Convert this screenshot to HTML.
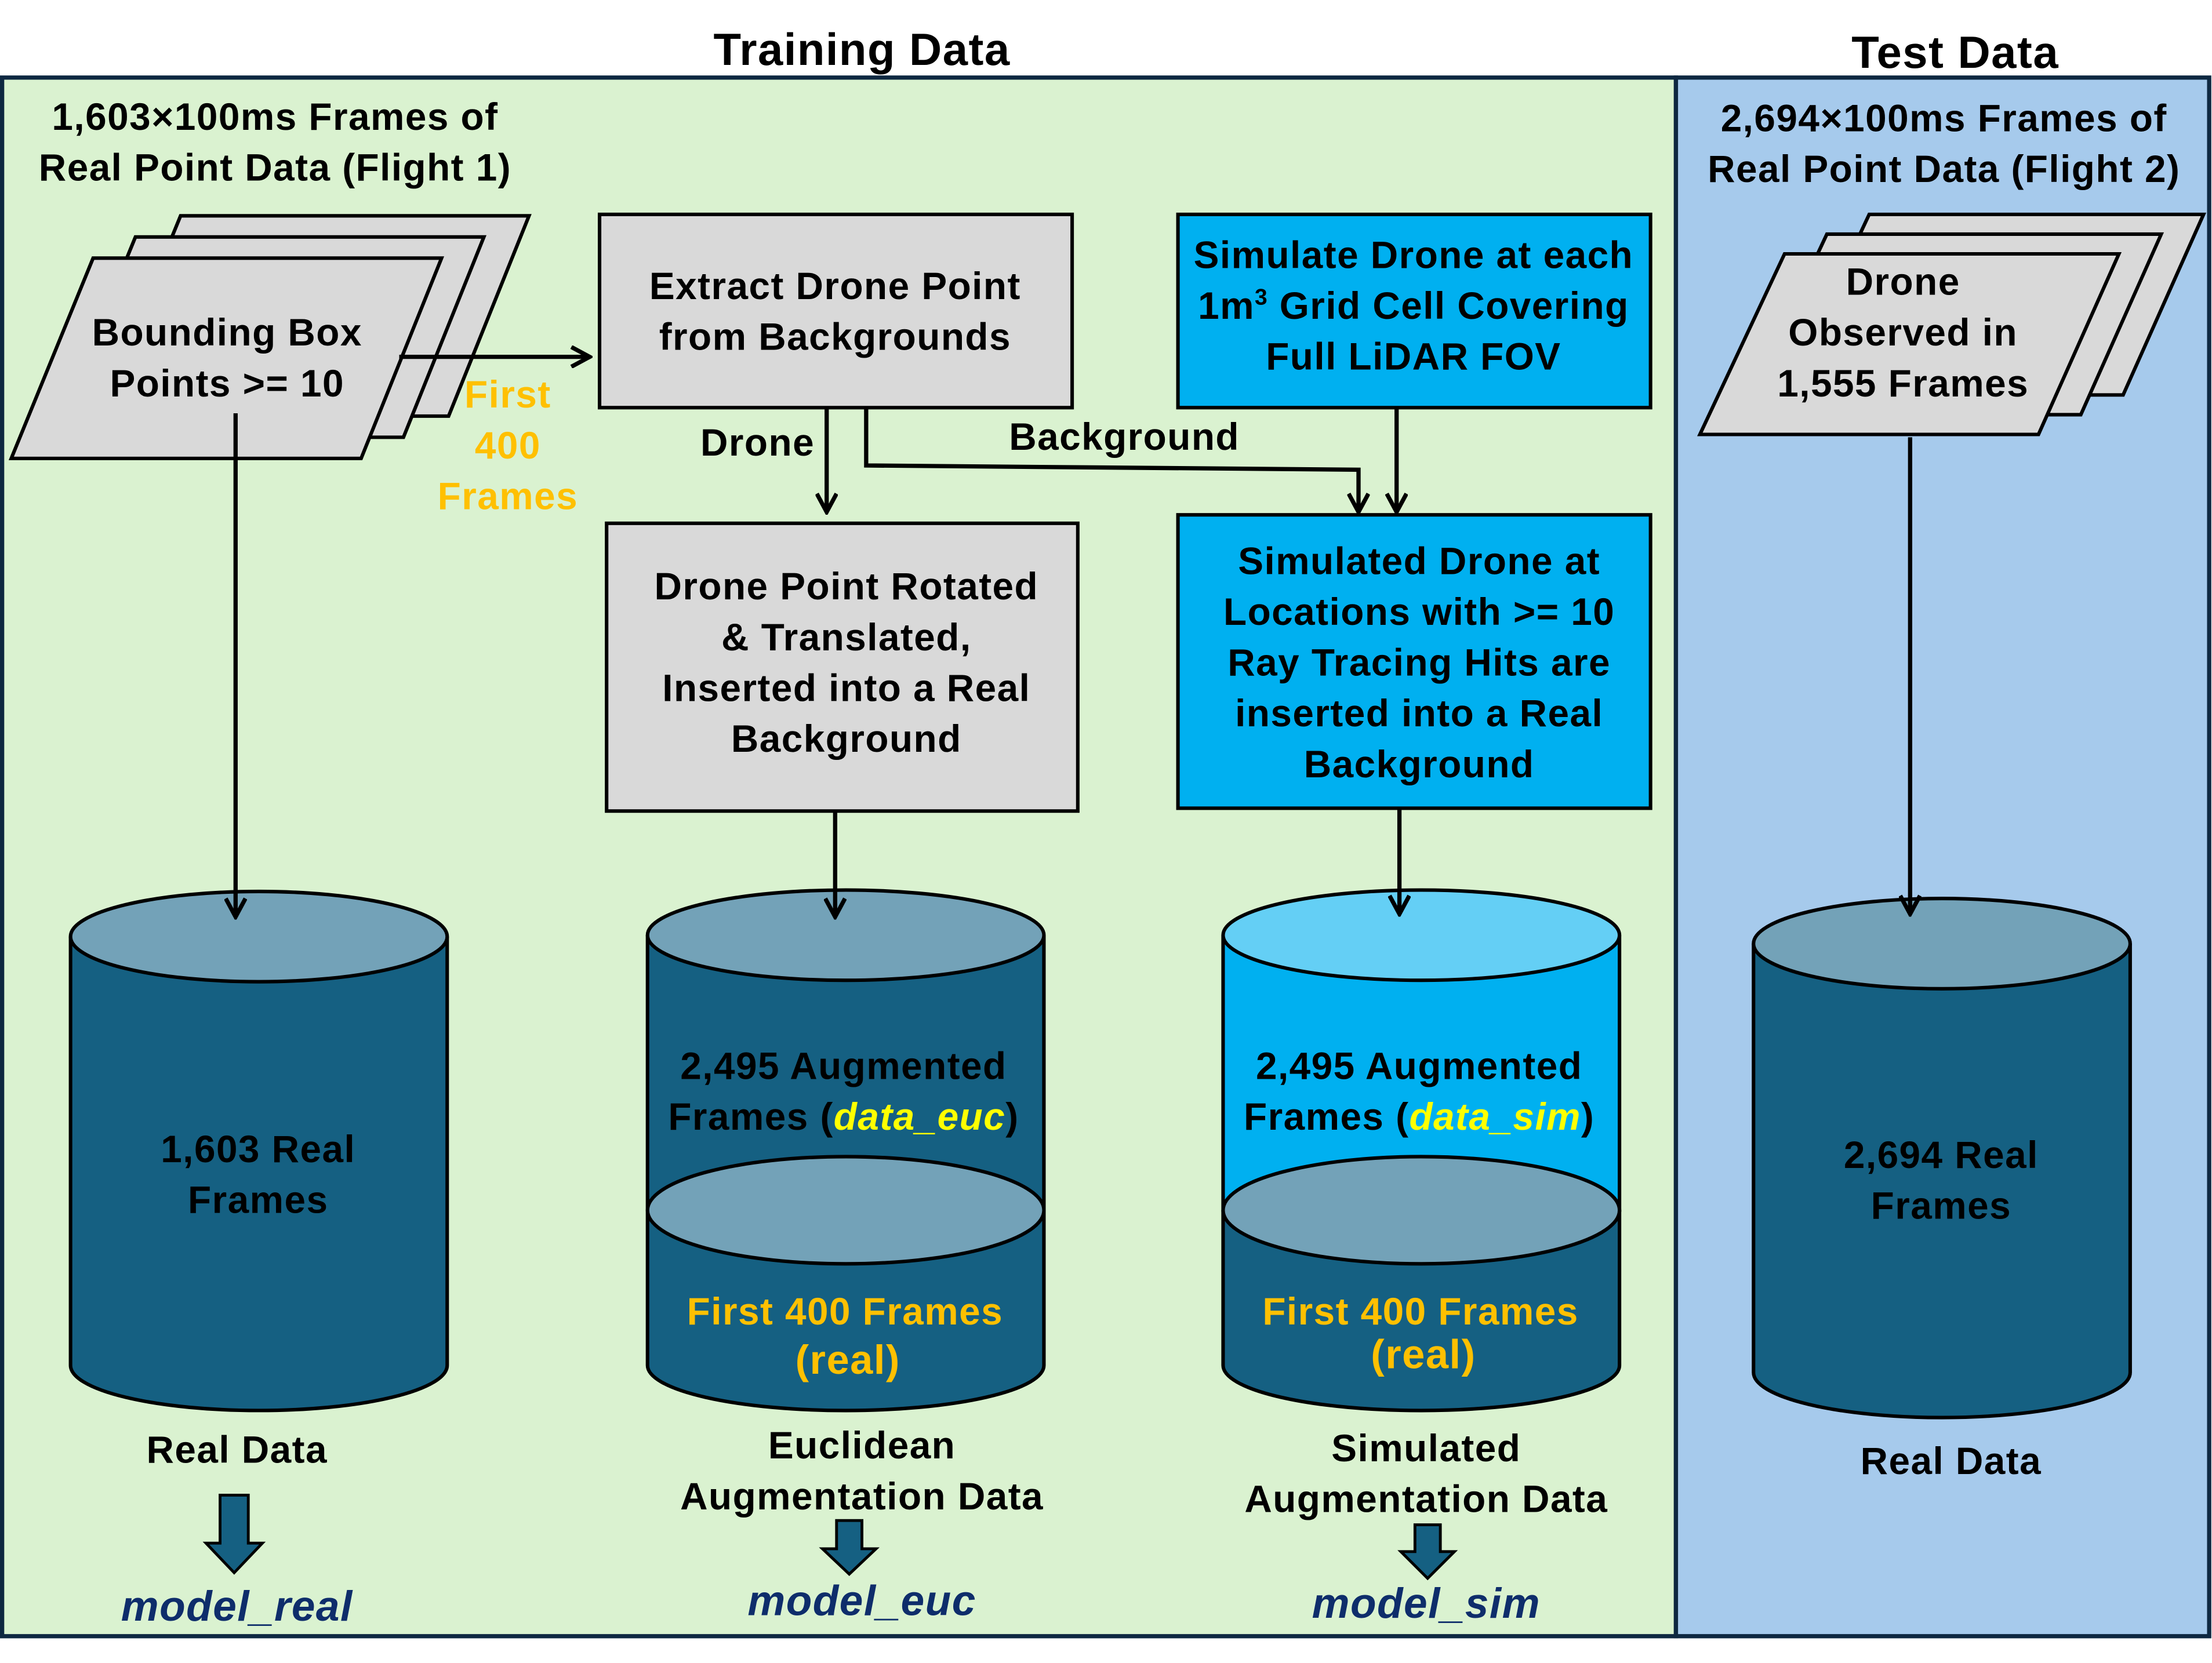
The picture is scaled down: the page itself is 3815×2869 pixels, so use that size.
<!DOCTYPE html>
<html><head><meta charset="utf-8"><style>
html,body{margin:0;padding:0;background:#fff}
svg{display:block}
text{font-family:"Liberation Sans","DejaVu Sans",sans-serif;font-weight:bold;font-size:27px;letter-spacing:0.6px;text-anchor:middle;fill:#000}
</style></head><body>
<svg width="3815" height="2869" viewBox="0 0 1568 1179" preserveAspectRatio="none" xmlns="http://www.w3.org/2000/svg">
<defs>
<marker id="ah" markerWidth="16" markerHeight="16" refX="14" refY="8" orient="auto" markerUnits="userSpaceOnUse"><path d="M1,1 L14,8 L1,15" fill="none" stroke="#000" stroke-width="3"/></marker>
</defs>
<rect width="1568" height="1179" fill="#fff"/>
<rect x="1.5" y="55" width="1186.5" height="1105" fill="#daf2d0" stroke="#0e2841" stroke-width="3"/>
<rect x="1188" y="55" width="378" height="1105" fill="#a6caec" stroke="#0e2841" stroke-width="3"/>
<text x="611" y="46" style="font-size:32px">Training Data</text>
<text x="1386" y="48" style="font-size:32px">Test Data</text>
<text x="195" y="92">1,603×100ms Frames of</text>
<text x="195" y="128">Real Point Data (Flight 1)</text>
<text x="1378" y="93">2,694×100ms Frames of</text>
<text x="1378" y="129">Real Point Data (Flight 2)</text>

<g fill="#d9d9d9" stroke="#000" stroke-width="2.5">
<polygon points="128,153 375,153 318,295 70,295"/>
<polygon points="96,168 343,168 286,310 38,310"/>
<polygon points="66,183 313,183 256,325 8,325"/>
<polygon points="1325,152 1562,152 1505,280 1265,280"/>
<polygon points="1295,166 1532,166 1475,294 1235,294"/>
<polygon points="1265,180 1502,180 1445,308 1205,308"/>
<rect x="425" y="152" width="335" height="137"/>
<rect x="430" y="371" width="334" height="204"/>
</g>
<g fill="#00b0f0" stroke="#000" stroke-width="2.5">
<rect x="835" y="152" width="335" height="137"/>
<rect x="835" y="365" width="335" height="208"/>
</g>
<text x="161" y="245">Bounding Box</text>
<text x="161" y="281">Points &gt;= 10</text>
<text x="1349" y="209">Drone</text>
<text x="1349" y="245">Observed in</text>
<text x="1349" y="281">1,555 Frames</text>
<text x="592" y="212">Extract Drone Point</text>
<text x="592" y="248">from Backgrounds</text>
<text x="1002" y="190">Simulate Drone at each</text>
<text x="1002" y="226">1m<tspan dy="-10" style="font-size:16px">3</tspan><tspan dy="10"> Grid Cell Covering</tspan></text>
<text x="1002" y="262">Full LiDAR FOV</text>
<text x="600" y="425">Drone Point Rotated</text>
<text x="600" y="461">&amp; Translated,</text>
<text x="600" y="497">Inserted into a Real</text>
<text x="600" y="533">Background</text>
<text x="1006" y="407">Simulated Drone at</text>
<text x="1006" y="443">Locations with &gt;= 10</text>
<text x="1006" y="479">Ray Tracing Hits are</text>
<text x="1006" y="515">inserted into a Real</text>
<text x="1006" y="551">Background</text>

<g stroke="#000" stroke-width="2.5">
<path d="M50,664 L50,968 A133.5,32 0 0 0 317,968 L317,664" fill="#156082"/>
<ellipse cx="183.5" cy="664" rx="133.5" ry="32" fill="#73a2b8"/>
<path d="M459,663 L459,968 A140.5,32 0 0 0 740,968 L740,663" fill="#156082"/>
<ellipse cx="599.5" cy="663" rx="140.5" ry="32" fill="#73a2b8"/>
<ellipse cx="599.5" cy="858" rx="140.5" ry="38" fill="#73a2b8"/>
<path d="M867,663 L867,858 L1148,858 L1148,663" fill="#00b0f0"/>
<path d="M867,858 L867,968 A140.5,32 0 0 0 1148,968 L1148,858" fill="#156082"/>
<ellipse cx="1007.5" cy="663" rx="140.5" ry="32" fill="#64cff5"/>
<ellipse cx="1007.5" cy="858" rx="140.5" ry="38" fill="#73a2b8"/>
<path d="M1243,669 L1243,973 A133.5,32 0 0 0 1510,973 L1510,669" fill="#156082"/>
<ellipse cx="1376.5" cy="669" rx="133.5" ry="32" fill="#73a2b8"/>
</g>

<g fill="none" stroke="#000" stroke-width="3">
<line x1="283" y1="253" x2="418" y2="253" marker-end="url(#ah)"/>
<line x1="586" y1="289" x2="586" y2="363" marker-end="url(#ah)"/>
<polyline points="614,289 614,330 963,333 963,363" marker-end="url(#ah)"/>
<line x1="990" y1="289" x2="990" y2="363" marker-end="url(#ah)"/>
<line x1="167" y1="293" x2="167" y2="650" marker-end="url(#ah)"/>
<line x1="592" y1="575" x2="592" y2="650" marker-end="url(#ah)"/>
<line x1="992" y1="573" x2="992" y2="648" marker-end="url(#ah)"/>
<line x1="1354" y1="310" x2="1354" y2="648" marker-end="url(#ah)"/>
</g>
<text x="360" y="289" style="fill:#ffc000">First</text>
<text x="360" y="325" style="fill:#ffc000">400</text>
<text x="360" y="361" style="fill:#ffc000">Frames</text>
<text x="537" y="323">Drone</text>
<text x="797" y="319">Background</text>

<text x="183" y="824">1,603 Real</text>
<text x="183" y="860">Frames</text>
<text x="1376" y="828">2,694 Real</text>
<text x="1376" y="864">Frames</text>
<text x="598" y="765">2,495 Augmented</text>
<text x="598" y="801">Frames (<tspan style="fill:#ffff00;font-style:italic">data_euc</tspan>)</text>
<text x="1006" y="765">2,495 Augmented</text>
<text x="1006" y="801">Frames (<tspan style="fill:#ffff00;font-style:italic">data_sim</tspan>)</text>
<text x="599" y="939" style="fill:#ffc000">First 400 Frames</text>
<text x="601" y="974" style="fill:#ffc000;font-size:29px">(real)</text>
<text x="1007" y="939" style="fill:#ffc000">First 400 Frames</text>
<text x="1009" y="970" style="fill:#ffc000;font-size:29px">(real)</text>

<text x="168" y="1037">Real Data</text>
<text x="611" y="1034">Euclidean</text>
<text x="611" y="1070">Augmentation Data</text>
<text x="1011" y="1036">Simulated</text>
<text x="1011" y="1072">Augmentation Data</text>
<text x="1383" y="1045">Real Data</text>

<g fill="#156082" stroke="#000" stroke-width="2">
<polygon points="156,1060 176,1060 176,1094 186,1094 166,1115 146,1094 156,1094"/>
<polygon points="593,1078 611,1078 611,1098 621,1098 602,1116 583,1098 593,1098"/>
<polygon points="1003,1081 1021,1081 1021,1100 1031,1100 1012,1119 993,1100 1003,1100"/>
</g>
<text x="168" y="1149" style="fill:#0e2d6b;font-style:italic;font-size:30px">model_real</text>
<text x="611" y="1145" style="fill:#0e2d6b;font-style:italic;font-size:30px">model_euc</text>
<text x="1011" y="1147" style="fill:#0e2d6b;font-style:italic;font-size:30px">model_sim</text>
</svg>
</body></html>
